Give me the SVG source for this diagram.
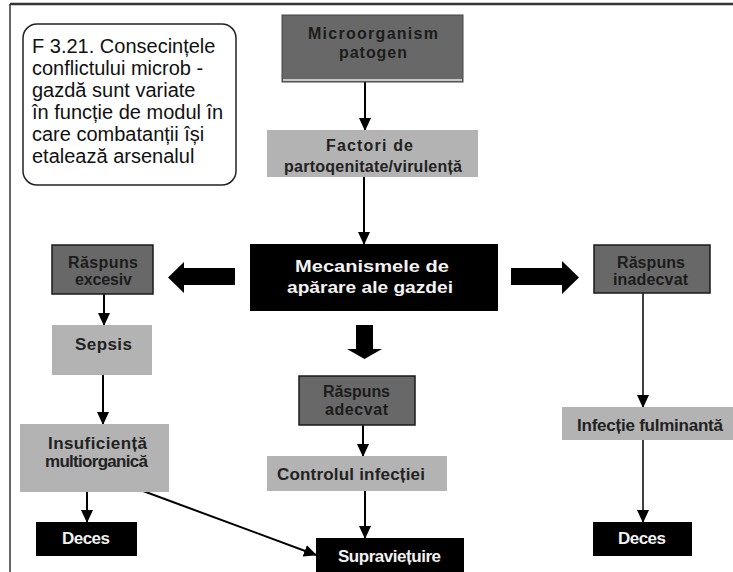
<svg xmlns="http://www.w3.org/2000/svg" width="733" height="572" viewBox="0 0 733 572">
  <style>
    .frame { stroke: #333; fill: none; }
    .dark { fill: #686868; stroke: #1a1a1a; stroke-width: 1.5; }
    .light { fill: #b3b3b3; }
    .black { fill: #000; }
    .lbl { font-family: "Liberation Sans", Arial, sans-serif; font-weight: bold; font-size: 17px; text-anchor: middle; }
    .two { font-size: 16px; }
    .onDark { fill: #1c1c1c; }
    .onLight { fill: #222; }
    .onBlack { fill: #f2f2f2; }
    .cap { font-family: "Liberation Sans", Arial, sans-serif; font-size: 20px; fill: #111; }
    .conn { stroke: #000; stroke-width: 2; fill: none; marker-end: url(#head); }
    .thin { stroke-width: 1.5; }
    .block { fill: #000; }
  </style>
  <defs>
    <marker id="head" markerUnits="userSpaceOnUse" markerWidth="13" markerHeight="13" viewBox="0 0 13 13" refX="12" refY="6.5" orient="auto">
      <path d="M0,0.5 L13,6.5 L0,12.5 z" fill="#000"/>
    </marker>
  </defs>

  <rect width="733" height="572" fill="#fff"/>

  <!-- page frame -->
  <g id="frame">
    <line class="frame" x1="10" y1="4" x2="733" y2="4" stroke-width="2.5"/>
    <line class="frame" x1="10" y1="4" x2="10" y2="572" stroke-width="1.5"/>
  </g>

  <!-- caption -->
  <g id="caption">
    <rect x="23" y="24" width="213" height="161" rx="14" ry="14" fill="#fff" stroke="#222" stroke-width="1.5"/>
    <text class="cap" x="32" y="52.5">F 3.21. Consecințele</text>
    <text class="cap" x="32" y="74.6">conflictului microb -</text>
    <text class="cap" x="32" y="96.7">gazdă sunt variate</text>
    <text class="cap" x="32" y="118.8">în funcție de modul în</text>
    <text class="cap" x="32" y="140.9">care combatanții își</text>
    <text class="cap" x="32" y="163">etalează arsenalul</text>
  </g>

  <!-- connectors -->
  <g id="connectors">
    <line class="conn" x1="365" y1="82" x2="365" y2="130"/>
    <line class="conn" x1="364" y1="177" x2="364" y2="244"/>
    <line class="conn" x1="104" y1="294" x2="104" y2="325"/>
    <line class="conn" x1="103" y1="375" x2="103" y2="424"/>
    <line class="conn" x1="87" y1="492" x2="87" y2="522"/>
    <line class="conn" x1="135" y1="488" x2="316" y2="555"/>
    <line class="conn" x1="363" y1="425" x2="363" y2="456"/>
    <line class="conn" x1="365" y1="491" x2="365" y2="538"/>
    <line class="conn thin" x1="643" y1="293" x2="643" y2="407"/>
    <line class="conn thin" x1="643" y1="440" x2="643" y2="522"/>
    <!-- block arrows out of the host-defence box -->
    <polygon class="block" points="235,268 184,268 184,262 168,277.5 184,293 184,285 235,285"/>
    <polygon class="block" points="511,268 562,268 562,261 579,277.5 562,294 562,285 511,285"/>
    <polygon class="block" points="356,325 373,325 373,349 382,349 364.5,359 347,349 356,349"/>
  </g>

  <g id="microorganism">
    <rect x="282" y="15" width="181" height="67" fill="#686868" stroke="#444" stroke-width="1"/>
    <line x1="283" y1="80" x2="462" y2="80" stroke="#e6e6e6" stroke-width="1.5"/>
    <text class="lbl two onDark" x="373" y="39" textLength="130" lengthAdjust="spacing">Microorganism</text>
    <text class="lbl two onDark" x="373" y="58" textLength="68" lengthAdjust="spacing">patogen</text>
  </g>

  <g id="factori">
    <rect class="light" x="267" y="130" width="211" height="47"/>
    <text class="lbl two onLight" x="369.5" y="150.5" textLength="87" lengthAdjust="spacing">Factori de</text>
    <text class="lbl two onLight" x="373" y="171.5" textLength="178" lengthAdjust="spacing">partoqenitate/virulență</text>
  </g>

  <g id="mecanisme">
    <rect class="black" x="250" y="244" width="248" height="67"/>
    <text class="lbl onBlack" x="372" y="271.5" font-size="19" textLength="154" lengthAdjust="spacingAndGlyphs">Mecanismele de</text>
    <text class="lbl onBlack" x="370" y="292.5" font-size="19" textLength="166" lengthAdjust="spacingAndGlyphs">apărare ale gazdei</text>
  </g>

  <g id="raspuns-excesiv">
    <rect class="dark" x="52" y="245" width="101" height="49"/>
    <text class="lbl two onDark" x="103" y="267.5" textLength="70" lengthAdjust="spacing">Răspuns</text>
    <text class="lbl two onDark" x="103.5" y="285" textLength="57" lengthAdjust="spacing">excesiv</text>
  </g>

  <g id="sepsis">
    <rect class="light" x="52" y="325" width="100" height="50"/>
    <text class="lbl onLight" x="103.5" y="349.5" font-size="18" textLength="57" lengthAdjust="spacing">Sepsis</text>
  </g>

  <g id="insuficienta">
    <rect class="light" x="20" y="424" width="149" height="68"/>
    <text class="lbl onLight" x="97.5" y="449" textLength="99" lengthAdjust="spacing">Insuficiență</text>
    <text class="lbl onLight" x="96.5" y="467" textLength="103" lengthAdjust="spacing">multiorganică</text>
  </g>

  <g id="deces-stanga">
    <rect class="black" x="36" y="522" width="101" height="34"/>
    <text class="lbl onBlack" x="86" y="543.5" textLength="48" lengthAdjust="spacing">Deces</text>
  </g>

  <g id="raspuns-adecvat">
    <rect class="dark" x="299" y="376" width="116" height="49"/>
    <text class="lbl two onDark" x="356.5" y="397" textLength="67" lengthAdjust="spacing">Răspuns</text>
    <text class="lbl two onDark" x="356.5" y="414.5" textLength="63" lengthAdjust="spacing">adecvat</text>
  </g>

  <g id="controlul">
    <rect class="light" x="267" y="456" width="180" height="35"/>
    <text class="lbl onLight" x="351" y="479.5" font-size="16.5" textLength="148" lengthAdjust="spacing">Controlul infecției</text>
  </g>

  <g id="supravietuire">
    <rect class="black" x="316" y="538" width="148" height="40"/>
    <text class="lbl onBlack" x="389.5" y="561.5" textLength="103" lengthAdjust="spacing">Supraviețuire</text>
  </g>

  <g id="raspuns-inadecvat">
    <rect class="dark" x="594" y="245" width="116" height="48"/>
    <text class="lbl two onDark" x="651" y="267.5" textLength="68" lengthAdjust="spacing">Răspuns</text>
    <text class="lbl two onDark" x="650.5" y="285" textLength="75" lengthAdjust="spacing">inadecvat</text>
  </g>

  <g id="infectie-fulminanta">
    <rect class="light" x="562" y="407" width="171" height="33"/>
    <text class="lbl onLight" x="650" y="430.5" font-size="16.5" textLength="146" lengthAdjust="spacing">Infecție fulminantă</text>
  </g>

  <g id="deces-dreapta">
    <rect class="black" x="593" y="522" width="99" height="34"/>
    <text class="lbl onBlack" x="642" y="543.5" textLength="48" lengthAdjust="spacing">Deces</text>
  </g>
</svg>
